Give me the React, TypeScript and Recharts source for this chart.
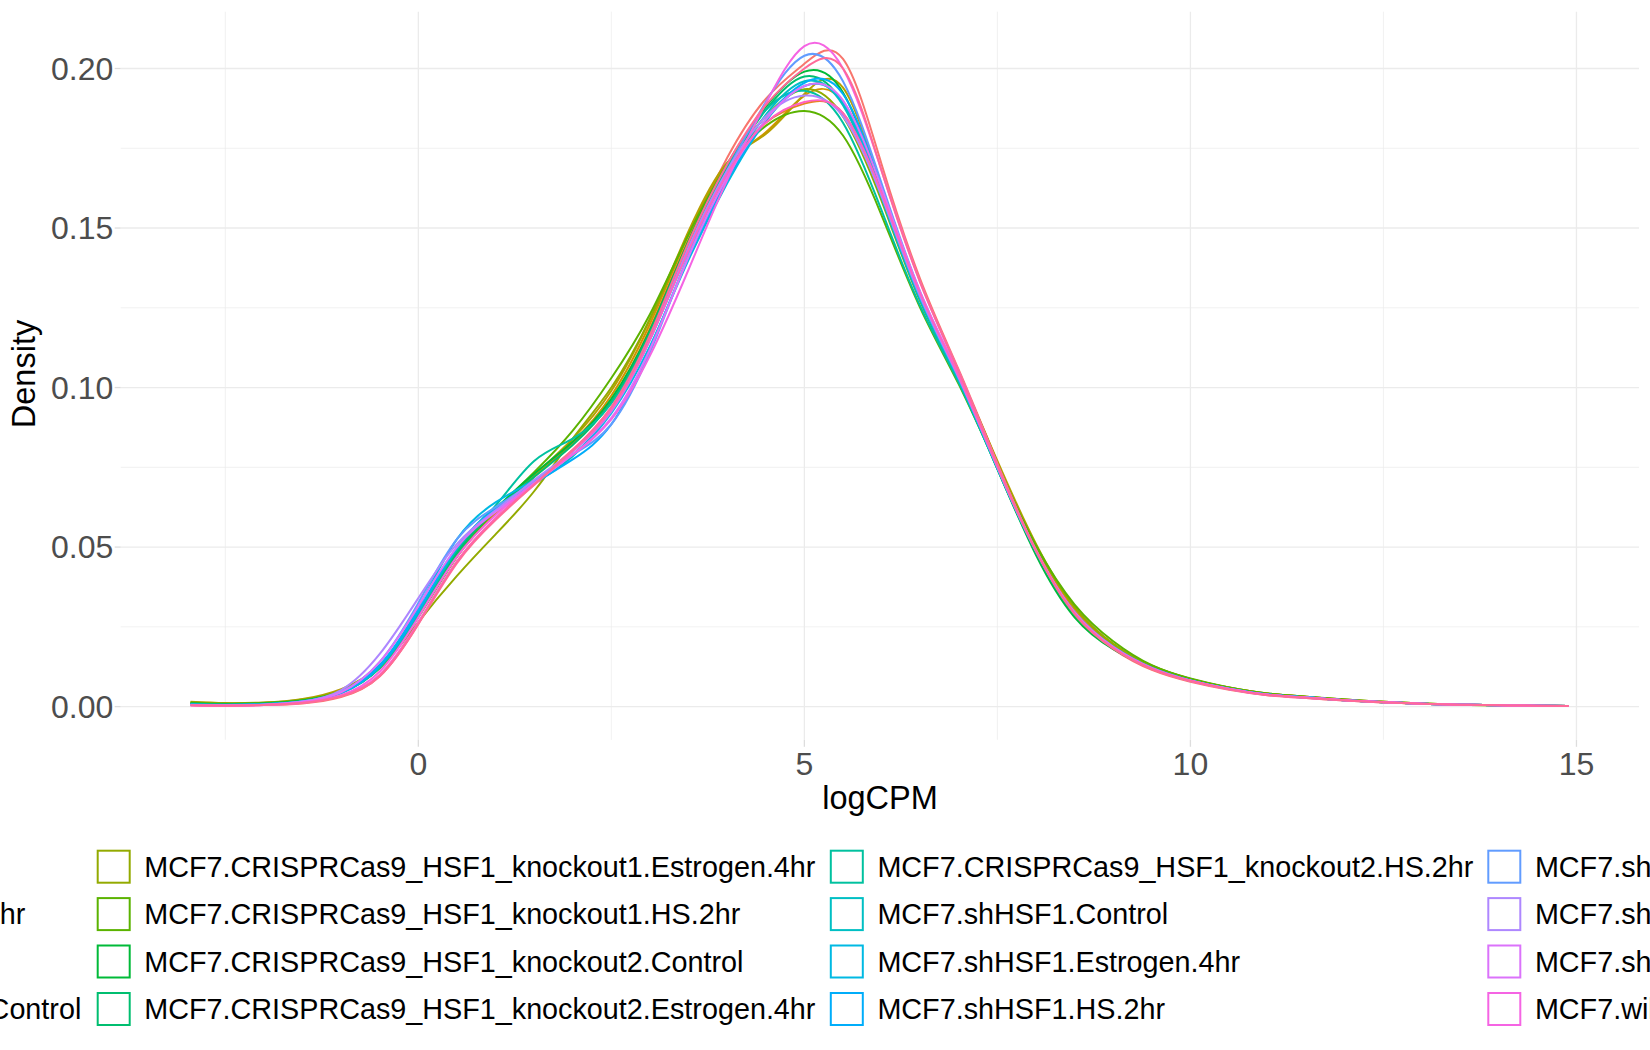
import React from 'react';
import { CartesianGrid, Line, LineChart, XAxis, YAxis } from 'recharts';

const logCPM = [
  -2.95, -2.5, -2, -1.5, -1, -0.5, 0, 0.5, 1, 1.5, 2, 2.5, 3, 3.5, 4, 4.5, 5, 5.5, 6, 6.5,
  7, 7.5, 8, 8.5, 9, 9.5, 10, 10.5, 11, 11.5, 12, 12.5, 13, 13.5, 14, 14.5, 14.9,
];

const crisprControlControl = [0.0004, 0.0003, 0.0005, 0.001, 0.003, 0.0095, 0.026, 0.0455, 0.059, 0.07, 0.0805, 0.0935, 0.116, 0.146, 0.172, 0.1905, 0.2015, 0.203, 0.17, 0.134, 0.1055, 0.0765, 0.049, 0.029, 0.018, 0.0115, 0.0078, 0.0053, 0.0036, 0.0027, 0.0019, 0.0013, 0.0009, 0.0006, 0.0004, 0.0003, 0.0002];
const crisprControlEstrogen = [0.001, 0.0008, 0.001, 0.002, 0.0048, 0.0125, 0.0285, 0.047, 0.0605, 0.072, 0.0825, 0.096, 0.1185, 0.1465, 0.169, 0.183, 0.189, 0.186, 0.16, 0.1285, 0.1035, 0.076, 0.05, 0.0305, 0.0192, 0.0125, 0.0085, 0.0058, 0.004, 0.003, 0.0021, 0.0014, 0.0009, 0.0006, 0.0004, 0.0003, 0.0002];
const crisprControlHS = [0.0012, 0.0009, 0.0011, 0.0021, 0.005, 0.0128, 0.029, 0.048, 0.0615, 0.0725, 0.083, 0.0975, 0.12, 0.148, 0.17, 0.18, 0.1915, 0.1895, 0.161, 0.129, 0.104, 0.0765, 0.0505, 0.031, 0.0195, 0.0127, 0.0086, 0.0059, 0.004, 0.003, 0.0021, 0.0014, 0.0009, 0.0006, 0.0004, 0.0003, 0.0002];
const ko1Control = [0.0015, 0.0011, 0.0013, 0.0024, 0.0055, 0.013, 0.0285, 0.0475, 0.061, 0.0725, 0.084, 0.099, 0.1215, 0.149, 0.1705, 0.1795, 0.192, 0.194, 0.162, 0.1285, 0.104, 0.077, 0.051, 0.0312, 0.0196, 0.0128, 0.0087, 0.006, 0.0041, 0.0031, 0.0022, 0.0015, 0.001, 0.0006, 0.0004, 0.0003, 0.0002];
const ko1Estrogen = [0.0014, 0.001, 0.0012, 0.0022, 0.005, 0.012, 0.0265, 0.041, 0.054, 0.0675, 0.084, 0.1, 0.1215, 0.148, 0.17, 0.185, 0.1935, 0.185, 0.1585, 0.127, 0.1025, 0.076, 0.0505, 0.0312, 0.0197, 0.0128, 0.0087, 0.006, 0.0041, 0.0031, 0.0022, 0.0015, 0.001, 0.0006, 0.0004, 0.0003, 0.0002];
const ko1HS = [0.0012, 0.0009, 0.0011, 0.002, 0.0048, 0.0122, 0.028, 0.047, 0.0615, 0.0735, 0.0865, 0.103, 0.123, 0.148, 0.169, 0.182, 0.1867, 0.179, 0.154, 0.125, 0.101, 0.075, 0.0505, 0.032, 0.0205, 0.013, 0.0088, 0.006, 0.0041, 0.0031, 0.0022, 0.0015, 0.001, 0.0006, 0.0004, 0.0003, 0.0002];
const ko2Control = [0.001, 0.0008, 0.001, 0.0019, 0.0046, 0.0125, 0.0295, 0.0485, 0.062, 0.073, 0.083, 0.0965, 0.118, 0.146, 0.17, 0.188, 0.199, 0.1925, 0.1615, 0.128, 0.102, 0.0745, 0.0475, 0.028, 0.018, 0.012, 0.0082, 0.0056, 0.0038, 0.0029, 0.002, 0.0014, 0.0009, 0.0006, 0.0004, 0.0003, 0.0002];
const ko2Estrogen = [0.0009, 0.0007, 0.0009, 0.0018, 0.0045, 0.0122, 0.029, 0.048, 0.0615, 0.072, 0.082, 0.0955, 0.1175, 0.1455, 0.169, 0.187, 0.1975, 0.189, 0.16, 0.1275, 0.102, 0.0745, 0.0482, 0.0288, 0.0184, 0.012, 0.0082, 0.0056, 0.0038, 0.0029, 0.002, 0.0014, 0.0009, 0.0006, 0.0004, 0.0003, 0.0002];
const ko2HS = [0.0008, 0.0006, 0.0008, 0.0017, 0.0044, 0.0122, 0.029, 0.049, 0.063, 0.077, 0.084, 0.095, 0.1165, 0.1445, 0.169, 0.187, 0.193, 0.183, 0.1555, 0.1255, 0.1015, 0.0745, 0.0485, 0.0292, 0.0186, 0.012, 0.0082, 0.0056, 0.0038, 0.0029, 0.002, 0.0014, 0.0009, 0.0006, 0.0004, 0.0003, 0.0002];
const shHSF1Control = [0.0007, 0.0005, 0.0007, 0.0015, 0.0042, 0.0125, 0.0295, 0.0495, 0.0625, 0.07, 0.0785, 0.0925, 0.115, 0.143, 0.167, 0.1855, 0.196, 0.1885, 0.1595, 0.1275, 0.1025, 0.0748, 0.0488, 0.0295, 0.0187, 0.0121, 0.0082, 0.0056, 0.0038, 0.0029, 0.002, 0.0014, 0.0009, 0.0006, 0.0004, 0.0003, 0.0002];
const shHSF1Estrogen = [0.0007, 0.0005, 0.0007, 0.0016, 0.0045, 0.013, 0.031, 0.0525, 0.064, 0.071, 0.079, 0.092, 0.113, 0.14, 0.164, 0.1835, 0.1945, 0.1895, 0.1605, 0.128, 0.1025, 0.0748, 0.0488, 0.0295, 0.0187, 0.0121, 0.0082, 0.0056, 0.0038, 0.0029, 0.002, 0.0014, 0.0009, 0.0006, 0.0004, 0.0003, 0.0002];
const shHSF1HS = [0.0006, 0.0005, 0.0007, 0.0015, 0.0043, 0.0128, 0.03, 0.05, 0.062, 0.07, 0.0775, 0.0885, 0.112, 0.141, 0.165, 0.184, 0.1955, 0.192, 0.1625, 0.129, 0.103, 0.075, 0.0488, 0.0295, 0.0187, 0.0121, 0.0082, 0.0056, 0.0038, 0.0029, 0.002, 0.0014, 0.0009, 0.0006, 0.0004, 0.0003, 0.0002];
const shScrControl = [0.0006, 0.0005, 0.0007, 0.0016, 0.0047, 0.014, 0.0325, 0.0525, 0.0625, 0.0705, 0.079, 0.0885, 0.111, 0.1415, 0.168, 0.1895, 0.204, 0.196, 0.164, 0.13, 0.1035, 0.0752, 0.0488, 0.0293, 0.0185, 0.012, 0.0081, 0.0055, 0.0037, 0.0028, 0.002, 0.0014, 0.0009, 0.0006, 0.0004, 0.0003, 0.0002];
const shScrEstrogen = [0.0005, 0.0004, 0.0006, 0.0016, 0.0052, 0.0165, 0.034, 0.051, 0.0615, 0.071, 0.08, 0.0925, 0.115, 0.144, 0.168, 0.185, 0.1915, 0.185, 0.16, 0.1285, 0.103, 0.075, 0.0488, 0.0295, 0.0187, 0.0121, 0.0082, 0.0056, 0.0038, 0.0029, 0.002, 0.0014, 0.0009, 0.0006, 0.0004, 0.0003, 0.0002];
const shScrHS = [0.0005, 0.0004, 0.0006, 0.0015, 0.0045, 0.014, 0.0315, 0.05, 0.061, 0.07, 0.079, 0.0905, 0.112, 0.141, 0.166, 0.184, 0.1945, 0.19, 0.1625, 0.13, 0.104, 0.0755, 0.049, 0.0295, 0.0186, 0.012, 0.0081, 0.0055, 0.0037, 0.0028, 0.002, 0.0014, 0.0009, 0.0006, 0.0004, 0.0003, 0.0002];
const wildtypeControl = [0.0004, 0.0003, 0.0005, 0.0012, 0.0036, 0.011, 0.028, 0.047, 0.06, 0.07, 0.079, 0.09, 0.11, 0.137, 0.165, 0.189, 0.207, 0.2, 0.168, 0.133, 0.105, 0.076, 0.049, 0.0293, 0.0185, 0.012, 0.0081, 0.0055, 0.0037, 0.0028, 0.002, 0.0014, 0.0009, 0.0006, 0.0004, 0.0003, 0.0002];
const wildtypeEstrogen = [0.0004, 0.0003, 0.0005, 0.0012, 0.0034, 0.01, 0.0265, 0.0455, 0.059, 0.0695, 0.08, 0.093, 0.115, 0.143, 0.167, 0.183, 0.1895, 0.186, 0.161, 0.1295, 0.1035, 0.0752, 0.0488, 0.0292, 0.0184, 0.0119, 0.0081, 0.0055, 0.0037, 0.0028, 0.002, 0.0014, 0.0009, 0.0006, 0.0004, 0.0003, 0.0002];
const wildtypeHS = [0.0004, 0.0003, 0.0005, 0.0011, 0.0032, 0.0095, 0.0258, 0.045, 0.0585, 0.0695, 0.0805, 0.094, 0.1165, 0.1455, 0.17, 0.1885, 0.2, 0.2, 0.168, 0.133, 0.105, 0.076, 0.0488, 0.029, 0.0182, 0.0118, 0.008, 0.0054, 0.0036, 0.0027, 0.0019, 0.0013, 0.0009, 0.0006, 0.0004, 0.0003, 0.0002];

const sampleNames = [
  'MCF7.CRISPRCas9_Control.Control',
  'MCF7.CRISPRCas9_Control.Estrogen.4hr',
  'MCF7.CRISPRCas9_Control.HS.2hr',
  'MCF7.CRISPRCas9_HSF1_knockout1.Control',
  'MCF7.CRISPRCas9_HSF1_knockout1.Estrogen.4hr',
  'MCF7.CRISPRCas9_HSF1_knockout1.HS.2hr',
  'MCF7.CRISPRCas9_HSF1_knockout2.Control',
  'MCF7.CRISPRCas9_HSF1_knockout2.Estrogen.4hr',
  'MCF7.CRISPRCas9_HSF1_knockout2.HS.2hr',
  'MCF7.shHSF1.Control',
  'MCF7.shHSF1.Estrogen.4hr',
  'MCF7.shHSF1.HS.2hr',
  'MCF7.shScramble.Control',
  'MCF7.shScramble.Estrogen.4hr',
  'MCF7.shScramble.HS.2hr',
  'MCF7.wildtype.Control',
  'MCF7.wildtype.Estrogen.4hr',
  'MCF7.wildtype.HS.2hr',
];

const sampleValues = [
  crisprControlControl, crisprControlEstrogen, crisprControlHS,
  ko1Control, ko1Estrogen, ko1HS,
  ko2Control, ko2Estrogen, ko2HS,
  shHSF1Control, shHSF1Estrogen, shHSF1HS,
  shScrControl, shScrEstrogen, shScrHS,
  wildtypeControl, wildtypeEstrogen, wildtypeHS,
];

// ggplot hue palette, 18 levels
const sampleColors = [
  '#F8766D', '#E8851E', '#D39200', '#B79F00', '#93AA00', '#5BB300',
  '#00BA38', '#00BE70', '#00C19F', '#00BFC4', '#00B9E3', '#00ADFA',
  '#619CFF', '#AE87FF', '#DB72FB', '#F564E3', '#FF61C3', '#FF6A98',
];

const xTicks = [0, 5, 10, 15];
const xMinorTicks = [-2.5, 2.5, 7.5, 12.5];
const yTicks = [0, 0.05, 0.1, 0.15, 0.2];
const yMinorTicks = [0.025, 0.075, 0.125, 0.175];

const FONT = '"Liberation Sans", Arial, Helvetica, sans-serif';
const GRID = '#EBEBEB';

// legend layout (ggplot wraps 18 keys into 4 rows x 5 columns, clipped at the page edges)
const legendColumnX = [-565.5, 96.7, 829.8, 1487.3, 2000];
const legendRowY = [866.7, 914.1, 961.5, 1009];

const seriesData = sampleValues.map((vals) =>
  vals.map((v, i) => ({ x: logCPM[i], y: v })),
);

const Legend18: React.FC = () => (
  <svg
    width={1650}
    height={1050}
    style={{ position: 'absolute', left: 0, top: 0, pointerEvents: 'none' }}
  >
    <text
      x={35}
      y={374}
      transform="rotate(-90 35 374)"
      textAnchor="middle"
      fontSize={32.5}
      fontFamily={FONT}
      fill="#000"
    >
      Density
    </text>
    <text x={880} y={809} textAnchor="middle" fontSize={32.5} fontFamily={FONT} fill="#000">
      logCPM
    </text>
    {sampleNames.map((name, i) => {
      const cx = legendColumnX[Math.floor(i / 4)];
      const cy = legendRowY[i % 4];
      return (
        <g key={name}>
          <rect
            x={cx + 1}
            y={cy - 16}
            width={32}
            height={32}
            fill="none"
            stroke={sampleColors[i]}
            strokeWidth={2}
          />
          <text x={cx + 47.6} y={cy + 10.2} fontSize={28.75} fontFamily={FONT} fill="#000">
            {name}
          </text>
        </g>
      );
    })}
  </svg>
);

const App: React.FC = () => {
  return (
    <div
      style={{
        position: 'absolute',
        left: 0,
        top: 0,
        width: 1650,
        height: 1050,
        overflow: 'hidden',
        background: '#fff',
      }}
    >
      <LineChart
        width={1650}
        height={1050}
        margin={{ top: 11.7, right: 11, bottom: 250, left: 0 }}
      >
        <CartesianGrid
          stroke={GRID}
          strokeWidth={0.7}
          syncWithTicks
          horizontalValues={yMinorTicks}
          verticalValues={xMinorTicks}
        />
        <CartesianGrid stroke={GRID} strokeWidth={1.3} syncWithTicks />
        <XAxis
          type="number"
          dataKey="x"
          domain={[-3.855, 15.81]}
          ticks={xTicks}
          allowDataOverflow
          axisLine={false}
          tickLine={{ stroke: '#DDDDDD', strokeWidth: 1.3 }}
          tickSize={7}
          tickMargin={5}
          height={60.2}
          tick={{ fill: '#4D4D4D', fontSize: 32, fontFamily: FONT }}
        />
        <YAxis
          type="number"
          dataKey="y"
          domain={[-0.0104, 0.2178]}
          ticks={yTicks}
          allowDataOverflow
          axisLine={false}
          tickLine={{ stroke: '#DDDDDD', strokeWidth: 1.3 }}
          tickSize={6}
          tickMargin={1.4}
          width={120.7}
          tickFormatter={(v: number) => v.toFixed(2)}
          tick={{ fill: '#4D4D4D', fontSize: 32, fontFamily: FONT }}
        />
        {seriesData.map((d, i) => (
          <Line
            key={sampleNames[i]}
            data={d}
            dataKey="y"
            type="natural"
            stroke={sampleColors[i]}
            strokeWidth={2}
            dot={false}
            activeDot={false}
            isAnimationActive={false}
          />
        ))}
      </LineChart>
      <Legend18 />
    </div>
  );
};

export default App;
